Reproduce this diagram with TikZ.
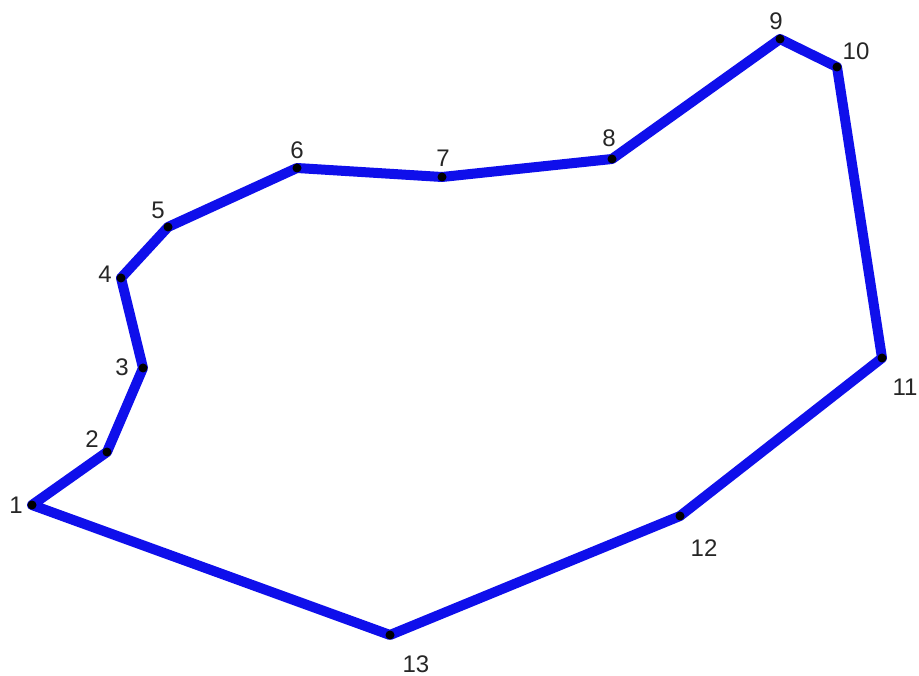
\documentclass[tikz,border=0pt]{standalone}
\usepackage{fontspec}
\setmainfont{Liberation Sans}
\definecolor{polyblue}{RGB}{15,15,235}
\begin{document}
\begin{tikzpicture}[x=1pt,y=-1pt,
  edge/.style={draw=polyblue,line width=10pt,line join=round,line cap=round},
  vdot/.style={fill=black,circle,inner sep=0pt,minimum size=9pt},
  lab/.style={font=\fontsize{24}{28}\selectfont,text=black!85,inner sep=0pt}]
\useasboundingbox (0,0) rectangle (919,676);
\coordinate (p1) at (32,505);
\coordinate (p2) at (107,452);
\coordinate (p3) at (143,368);
\coordinate (p4) at (121,278);
\coordinate (p5) at (168,227);
\coordinate (p6) at (297,168);
\coordinate (p7) at (442,177);
\coordinate (p8) at (612,159);
\coordinate (p9) at (780,39);
\coordinate (p10) at (837,67);
\coordinate (p11) at (882,358);
\coordinate (p12) at (680,516);
\coordinate (p13) at (390,635);
\draw[edge] (p1)--(p2)--(p3)--(p4)--(p5)--(p6)--(p7)--(p8)--(p9)--(p10)--(p11)--(p12)--(p13)--cycle;
\foreach \i in {1,...,13} \node[vdot] (d\i) at (p\i) {};
\node[lab] (l1) at (16,505) {1};
\node[lab] (l2) at (92,439) {2};
\node[lab] (l3) at (122,367) {3};
\node[lab] (l4) at (105,274) {4};
\node[lab] (l5) at (158,210) {5};
\node[lab] (l6) at (297,150) {6};
\node[lab] (l7) at (443,158) {7};
\node[lab] (l8) at (609,138) {8};
\node[lab] (l9) at (776,21) {9};
\node[lab] (l10) at (856,51) {10};
\node[lab] (l11) at (905,387) {11};
\node[lab] (l12) at (704,548) {12};
\node[lab] (l13) at (416,664) {13};
\end{tikzpicture}
\end{document}
